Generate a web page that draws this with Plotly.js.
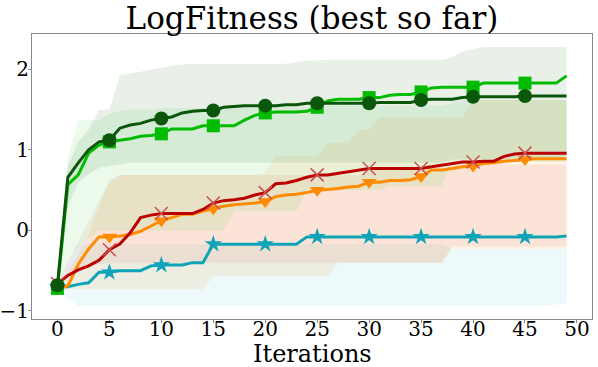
<!DOCTYPE html>
<html>
<head>
<meta charset="utf-8">
<script src="https://cdn.plot.ly/plotly-3.0.1.min.js"></script>
<style>
  html, body { margin: 0; padding: 0; background: #fff; }
  #chart { width: 598px; height: 367px; }
</style>
</head>
<body>
<div id="chart"></div>
<script>
// iterations 0..49
const iterations = [...Array(50).keys()];

// median "best so far" curves
const darkGreen = [-0.68, 0.66, 0.84, 1.00, 1.10, 1.12, 1.27, 1.31, 1.33, 1.37,
  1.39, 1.41, 1.46, 1.48, 1.49, 1.49, 1.53, 1.54, 1.55, 1.55,
  1.55, 1.55, 1.56, 1.56, 1.58, 1.58, 1.58, 1.58, 1.58, 1.58,
  1.58, 1.59, 1.59, 1.59, 1.59, 1.62, 1.63, 1.63, 1.63, 1.65,
  1.66, 1.66, 1.66, 1.66, 1.66, 1.67, 1.67, 1.67, 1.67, 1.67];
const brightGreen = [-0.72, 0.57, 0.69, 0.96, 1.06, 1.10, 1.12, 1.14, 1.17, 1.18,
  1.20, 1.26, 1.26, 1.26, 1.30, 1.30, 1.30, 1.30, 1.37, 1.43,
  1.46, 1.47, 1.47, 1.47, 1.48, 1.53, 1.61, 1.63, 1.63, 1.63,
  1.65, 1.65, 1.68, 1.69, 1.69, 1.72, 1.77, 1.78, 1.78, 1.78,
  1.78, 1.83, 1.83, 1.83, 1.83, 1.83, 1.83, 1.83, 1.83, 1.92];
const darkRed = [-0.66, -0.56, -0.49, -0.44, -0.37, -0.24, -0.17, -0.03, 0.16, 0.19,
  0.21, 0.21, 0.21, 0.21, 0.26, 0.34, 0.37, 0.38, 0.40, 0.44,
  0.47, 0.58, 0.59, 0.62, 0.66, 0.69, 0.69, 0.71, 0.73, 0.75,
  0.77, 0.77, 0.77, 0.77, 0.77, 0.77, 0.79, 0.81, 0.83, 0.85,
  0.85, 0.86, 0.86, 0.92, 0.95, 0.96, 0.96, 0.96, 0.96, 0.96];
const orange = [-0.72, -0.69, -0.42, -0.23, -0.08, -0.08, -0.07, -0.05, -0.01, 0.05,
  0.12, 0.16, 0.20, 0.20, 0.24, 0.27, 0.30, 0.32, 0.33, 0.34,
  0.36, 0.42, 0.44, 0.45, 0.47, 0.50, 0.51, 0.52, 0.54, 0.55,
  0.60, 0.60, 0.62, 0.62, 0.63, 0.67, 0.75, 0.75, 0.77, 0.79,
  0.80, 0.83, 0.84, 0.86, 0.87, 0.88, 0.89, 0.89, 0.89, 0.89];
const teal = [-0.70, -0.70, -0.67, -0.65, -0.52, -0.52, -0.50, -0.50, -0.50, -0.44,
  -0.43, -0.43, -0.43, -0.40, -0.40, -0.17, -0.17, -0.17, -0.17, -0.17,
  -0.17, -0.17, -0.17, -0.17, -0.08, -0.08, -0.08, -0.08, -0.08, -0.08,
  -0.08, -0.08, -0.08, -0.08, -0.08, -0.08, -0.08, -0.08, -0.08, -0.08,
  -0.08, -0.08, -0.08, -0.08, -0.08, -0.08, -0.08, -0.08, -0.08, -0.07];

// spread bands (lower / upper)
const darkGreenLo = [-0.70, 0.30, 0.60, 0.70, 0.78, 0.80, 0.82, 0.84, 0.84, 0.84,
  0.84, 0.84, 0.84, 0.84, 0.84, 0.84, 0.84, 0.84, 0.84, 0.84,
  0.84, 0.84, 0.84, 0.84, 0.84, 0.84, 0.84, 0.84, 0.84, 0.84,
  0.84, 0.84, 0.84, 0.84, 0.84, 0.84, 0.84, 0.84, 0.88, 0.88,
  0.88, 0.88, 0.88, 0.88, 0.88, 0.88, 0.88, 0.88, 0.88, 0.88];
const darkGreenHi = [-0.65, 0.80, 1.10, 1.25, 1.50, 1.50, 1.93, 1.95, 1.97, 2.00,
  2.02, 2.05, 2.06, 2.07, 2.07, 2.07, 2.07, 2.07, 2.07, 2.07,
  2.07, 2.07, 2.07, 2.09, 2.11, 2.11, 2.12, 2.12, 2.12, 2.12,
  2.12, 2.12, 2.12, 2.12, 2.12, 2.12, 2.12, 2.12, 2.15, 2.23,
  2.25, 2.28, 2.28, 2.28, 2.28, 2.28, 2.28, 2.28, 2.28, 2.28];
const brightGreenLo = [-0.72, -0.40, -0.20, -0.10, 0.00, 0.00, 0.00, 0.00, 0.00, 0.00,
  0.00, 0.00, 0.00, 0.00, 0.00, 0.00, 0.00, 0.24, 0.24, 0.24,
  0.24, 0.24, 0.24, 0.24, 0.50, 0.50, 0.50, 0.50, 0.50, 0.50,
  0.50, 0.50, 0.55, 0.55, 0.55, 0.55, 0.55, 0.55, 0.85, 0.85,
  0.85, 0.85, 0.85, 0.85, 0.85, 0.85, 0.85, 0.85, 0.85, 0.85];
const brightGreenHi = [-0.70, 0.90, 1.37, 1.37, 1.37, 1.45, 1.48, 1.50, 1.50, 1.50,
  1.52, 1.52, 1.52, 1.52, 1.52, 1.52, 1.52, 1.52, 1.52, 1.52,
  1.53, 1.53, 1.53, 1.53, 1.53, 1.55, 1.55, 1.55, 1.55, 1.55,
  1.55, 1.55, 1.55, 1.55, 1.55, 1.55, 1.55, 1.55, 1.58, 1.62,
  1.62, 1.62, 1.62, 1.62, 1.62, 1.62, 1.62, 1.62, 1.62, 1.62];
const darkRedLo = [-0.70, -0.55, -0.50, -0.45, -0.42, -0.40, -0.40, -0.40, -0.40, -0.40,
  -0.40, -0.40, -0.40, -0.40, -0.40, -0.40, -0.40, -0.40, -0.40, -0.40,
  -0.40, -0.40, -0.40, -0.40, -0.40, -0.40, -0.40, -0.40, -0.40, -0.40,
  -0.40, -0.40, -0.40, -0.40, -0.40, -0.40, -0.40, -0.40, -0.20, -0.20,
  -0.20, -0.20, -0.20, -0.20, -0.20, -0.20, -0.20, -0.20, -0.20, -0.20];
const darkRedHi = [-0.65, -0.40, -0.15, 0.10, 0.35, 0.62, 0.69, 0.69, 0.69, 0.69,
  0.69, 0.69, 0.69, 0.69, 0.69, 0.69, 0.69, 0.69, 0.69, 0.69,
  0.69, 0.69, 0.69, 0.69, 0.69, 0.69, 0.69, 0.69, 0.69, 0.69,
  0.75, 0.75, 0.75, 0.75, 0.75, 0.75, 0.75, 0.75, 0.82, 0.82,
  0.82, 0.82, 0.82, 0.82, 0.82, 0.82, 0.82, 0.82, 0.82, 0.82];
const orangeLo = [-0.72, -0.73, -0.73, -0.73, -0.73, -0.73, -0.73, -0.73, -0.73, -0.73,
  -0.73, -0.73, -0.73, -0.73, -0.73, -0.57, -0.57, -0.57, -0.57, -0.57,
  -0.57, -0.57, -0.57, -0.57, -0.57, -0.57, -0.57, -0.40, -0.40, -0.40,
  -0.40, -0.40, -0.40, -0.40, -0.40, -0.40, -0.40, -0.40, -0.23, -0.23,
  -0.23, -0.23, -0.23, -0.23, -0.23, -0.23, -0.23, -0.23, -0.23, -0.23];
const orangeHi = [-0.72, -0.50, -0.30, -0.05, 0.30, 0.60, 0.69, 0.69, 0.69, 0.69,
  0.69, 0.69, 0.69, 0.69, 0.69, 0.69, 0.69, 0.69, 0.69, 0.69,
  0.72, 0.92, 0.92, 0.92, 0.92, 0.92, 1.09, 1.09, 1.09, 1.25,
  1.25, 1.41, 1.41, 1.41, 1.41, 1.41, 1.41, 1.41, 1.41, 1.41,
  1.62, 1.62, 1.62, 1.62, 1.62, 1.62, 1.62, 1.62, 1.62, 1.62];
const tealLo = [-0.75, -0.85, -0.94, -0.94, -0.94, -0.94, -0.94, -0.94, -0.94, -0.94,
  -0.94, -0.94, -0.94, -0.94, -0.94, -0.94, -0.94, -0.94, -0.94, -0.94,
  -0.94, -0.94, -0.94, -0.94, -0.94, -0.94, -0.94, -0.94, -0.94, -0.94,
  -0.94, -0.94, -0.94, -0.94, -0.94, -0.94, -0.94, -0.94, -0.94, -0.94,
  -0.94, -0.94, -0.94, -0.94, -0.94, -0.94, -0.94, -0.94, -0.92, -0.90];
const tealHi = [-0.70, -0.40, -0.17, -0.17, -0.17, -0.17, -0.17, -0.17, -0.17, -0.17,
  -0.17, -0.17, -0.17, -0.17, -0.17, -0.17, -0.17, -0.17, -0.17, -0.17,
  -0.17, -0.17, -0.17, -0.17, -0.17, -0.17, -0.17, -0.17, -0.17, -0.17,
  -0.17, -0.17, -0.17, -0.17, -0.17, -0.17, -0.17, -0.17, -0.23, -0.23,
  -0.23, -0.23, -0.23, -0.23, -0.23, -0.23, -0.23, -0.23, -0.23, -0.23];

const xTicks = [0, 5, 10, 15, 20, 25, 30, 35, 40, 45, 50];
const yTicks = [-1, 0, 1, 2];

const series = [
  { y: teal, lo: tealLo, hi: tealHi, color: '#0fa3b8', band: 'rgba(23,180,205,0.08)',
    symbol: 'star', size: 13 },
  { y: orange, lo: orangeLo, hi: orangeHi, color: '#ff8c00', band: 'rgba(255,140,0,0.1)',
    symbol: 'triangle-down', size: 13 },
  { y: darkRed, lo: darkRedLo, hi: darkRedHi, color: '#bb0000', band: 'rgba(187,0,0,0.06)',
    symbol: 'x-thin', size: 13, markerColor: '#cc5050' },
  { y: brightGreen, lo: brightGreenLo, hi: brightGreenHi, color: '#00bb00', band: 'rgba(0,187,0,0.08)',
    symbol: 'square', size: 13 },
  { y: darkGreen, lo: darkGreenLo, hi: darkGreenHi, color: '#0a560a', band: 'rgba(0,85,0,0.09)',
    symbol: 'circle', size: 14 },
];

const traces = [];

// bands first
series.forEach(s => {
  traces.push({
    x: iterations, y: s.lo, mode: 'lines', line: { width: 0, color: s.band },
    hoverinfo: 'skip', showlegend: false,
  });
  traces.push({
    x: iterations, y: s.hi, mode: 'lines', line: { width: 0, color: s.band },
    fill: 'tonexty', fillcolor: s.band, hoverinfo: 'skip', showlegend: false,
  });
});

// lines and markers (every 5th iteration marked)
series.forEach(s => {
  traces.push({
    x: iterations, y: s.y, mode: 'lines',
    line: { color: s.color, width: 3 }, showlegend: false,
  });
  const mx = iterations.filter(i => i % 5 === 0);
  const my = mx.map(i => s.y[i]);
  traces.push({
    x: mx, y: my, mode: 'markers', showlegend: false,
    marker: {
      symbol: s.symbol, size: s.size, color: s.markerColor || s.color,
      line: s.symbol === 'x-thin' ? { color: s.markerColor, width: 1.5 } : { width: 0 },
    },
  });
});

const serif = 'DejaVu Serif, serif';

const layout = {
  width: 598,
  height: 367,
  margin: { l: 32, r: 6, t: 34, b: 48 },
  paper_bgcolor: '#fff',
  plot_bgcolor: '#fff',
  showlegend: false,
  title: {
    text: 'LogFitness (best so far)',
    font: { family: serif, size: 31, color: '#000' },
    x: 0.5, xref: 'paper', xanchor: 'center',
    y: 0.95, yref: 'container', yanchor: 'middle',
  },
  xaxis: {
    range: [-2.45, 51.45],
    tickvals: xTicks,
    ticks: 'outside', ticklen: 3, tickcolor: '#888',
    ticklabelstandoff: -11,
    tickfont: { family: serif, size: 20, color: '#000' },
    showgrid: false, zeroline: false,
    showline: true, linecolor: '#888', linewidth: 1, mirror: true,
  },
  yaxis: {
    range: [-1.1, 2.44],
    tickvals: yTicks,
    ticks: 'outside', ticklen: 3, tickcolor: '#888',
    ticklabelstandoff: -5,
    tickfont: { family: serif, size: 20, color: '#000' },
    showgrid: false, zeroline: false,
    showline: true, linecolor: '#888', linewidth: 1, mirror: true,
  },
  annotations: [{
    text: 'Iterations', xref: 'paper', yref: 'paper',
    x: 0.5, y: -0.123, xanchor: 'center', yanchor: 'middle',
    showarrow: false, font: { family: serif, size: 24, color: '#000' },
  }],
};

Plotly.newPlot('chart', traces, layout, { staticPlot: true, displayModeBar: false });
</script>
</body>
</html>
